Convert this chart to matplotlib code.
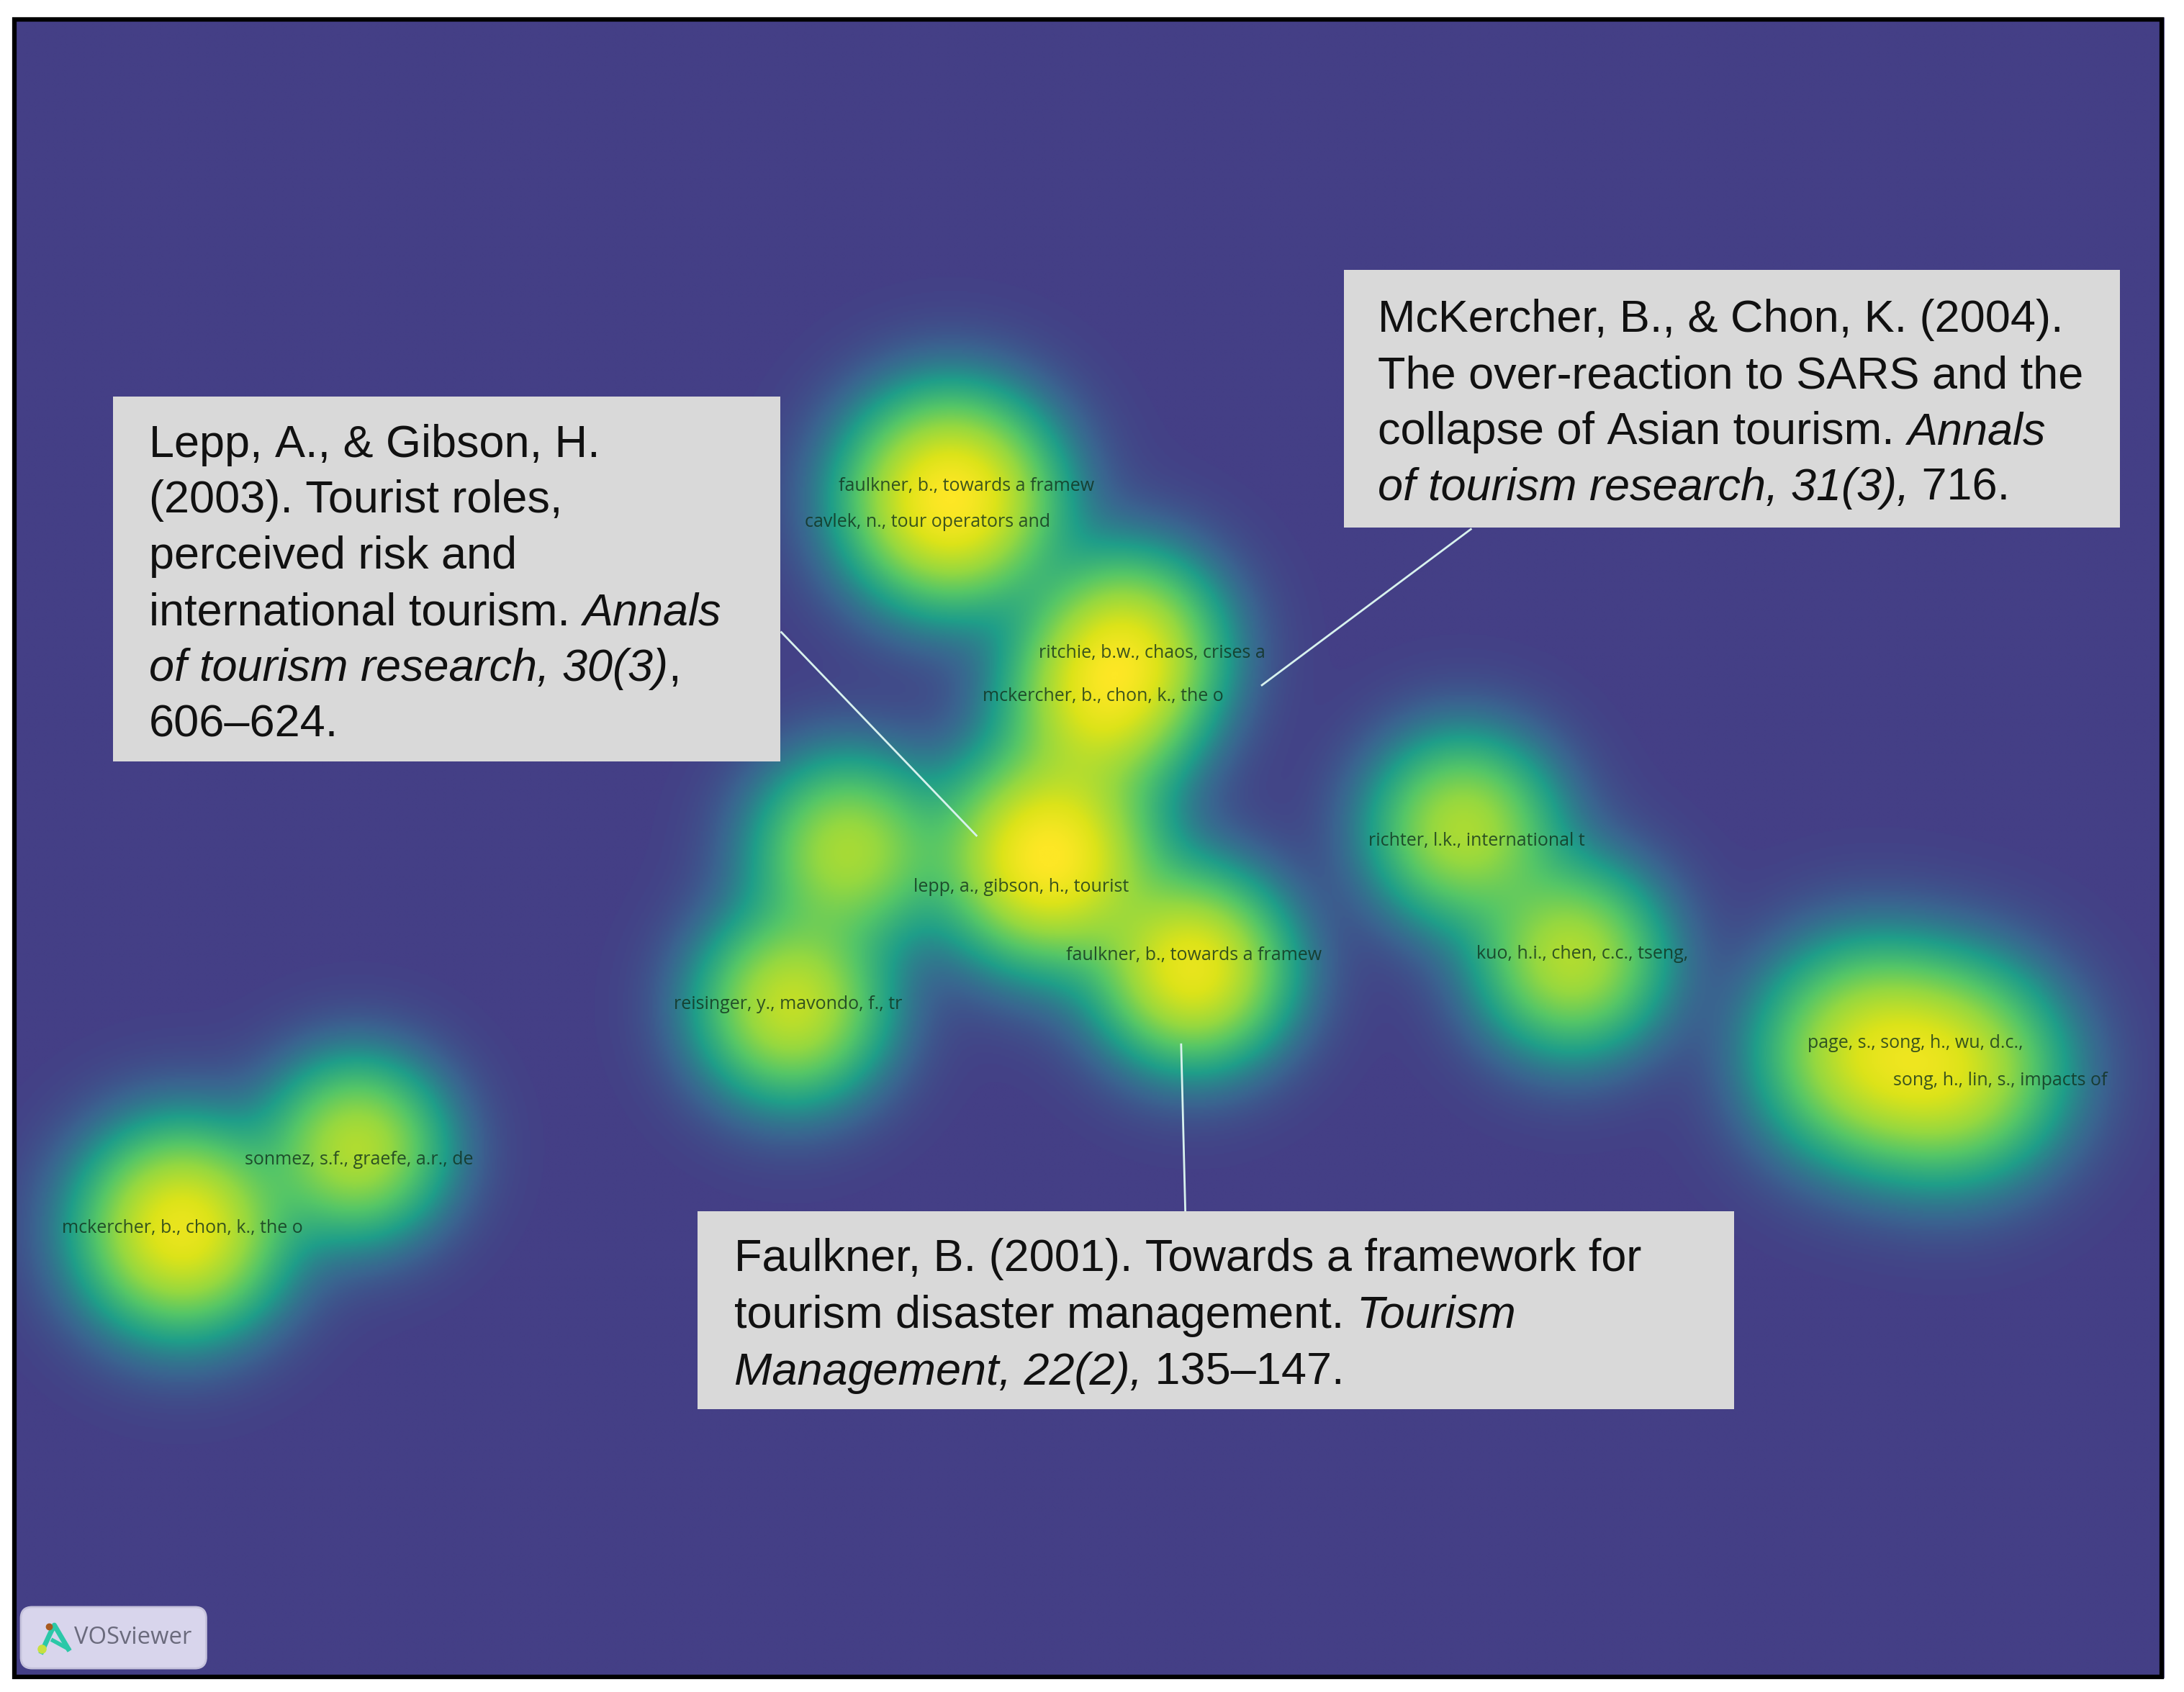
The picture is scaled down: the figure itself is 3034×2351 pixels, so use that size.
import matplotlib
matplotlib.use('Agg')
import matplotlib.pyplot as plt
import numpy as np
from matplotlib.colors import LinearSegmentedColormap
from matplotlib.patches import FancyBboxPatch, Rectangle

# density nodes, in picture coordinates of the 1568x1215 view
node_x = [682, 810, 790, 752, 856, 608, 568, 1050, 1128, 1338, 1405, 256, 130]
node_y = [358, 462, 505, 615, 695, 610, 722, 595, 688, 755, 768, 824, 882]
node_w = [1.0, 0.66, 0.66, 1.0, 0.86, 0.6, 0.7, 0.62, 0.64, 0.66, 0.66, 0.64, 0.88]
node_s = [48, 44, 44, 48, 44, 44, 44, 44, 44, 50, 50, 42, 47]

label_text = ["faulkner, b., towards a framew", "cavlek, n., tour operators and",
              "ritchie, b.w., chaos, crises a", "mckercher, b., chon, k., the o",
              "lepp, a., gibson, h., tourist", "faulkner, b., towards a framew",
              "reisinger, y., mavondo, f., tr", "richter, l.k., international t",
              "kuo, h.i., chen, c.c., tseng,", "page, s., song, h., wu, d.c.,",
              "song, h., lin, s., impacts of", "sonmez, s.f., graefe, a.r., de",
              "mckercher, b., chon, k., the o"]
label_x = [694, 666, 827, 792, 733, 857, 566, 1060, 1136, 1375, 1436, 258, 131]
label_y = [349, 375, 469, 500, 637, 686, 721, 604, 685, 749, 776, 833, 882]

lepp_lines = [[("Lepp, A., & Gibson, H.", "normal")],
              [("(2003). Tourist roles,", "normal")],
              [("perceived risk and", "normal")],
              [("international tourism. ", "normal"), ("Annals", "italic")],
              [("of tourism research, 30(3)", "italic"), (",", "normal")],
              [("606\u2013624.", "normal")]]
mck_lines = [[("McKercher, B., & Chon, K. (2004).", "normal")],
             [("The over-reaction to SARS and the", "normal")],
             [("collapse of Asian tourism. ", "normal"), ("Annals", "italic")],
             [("of tourism research, 31(3),", "italic"), (" 716.", "normal")]]
faulk_lines = [[("Faulkner, B. (2001). Towards a framework for", "normal")],
               [("tourism disaster management. ", "normal"), ("Tourism", "italic")],
               [("Management, 22(2),", "italic"), (" 135\u2013147.", "normal")]]

W, H = 1568, 1215
BG = '#443F86'
cmap = LinearSegmentedColormap.from_list('vos', [(0, BG), (0.07, '#3A6490'), (0.2, '#1F9E89'),
                                                 (0.38, '#55C667'), (0.55, '#95D840'),
                                                 (0.8, '#DCE319'), (1, '#FDE725')])

fig = plt.figure(figsize=(30.34, 23.51), dpi=100, facecolor='white')
ax = fig.add_axes([0, 0, 1, 1])
ax.set_xlim(0, W)
ax.set_ylim(H, 0)
ax.axis('off')

# heat map: gaussians combined with a p-norm so overlaps do not blow out
P = 1.25
xx, yy = np.meshgrid(np.arange(0, W, 1.0), np.arange(0, H, 1.0))
dens = np.zeros_like(xx)
for x, y, w, s in zip(node_x, node_y, node_w, node_s):
    dens += (w * np.exp(-((xx - x) ** 2 + (yy - y) ** 2) / (2 * s ** 2))) ** P
dens = dens ** (1 / P)
ax.imshow(np.clip(dens, 0, 1), cmap=cmap, vmin=0, vmax=1, extent=(0, W, H, 0),
          aspect='auto', interpolation='bilinear', zorder=1)

# black frame and white margin
ax.add_patch(Rectangle((0, 0), W, 12, color='white', zorder=2))
ax.add_patch(Rectangle((0, 1205), W, 10, color='white', zorder=2))
ax.add_patch(Rectangle((0, 0), 9, H, color='white', zorder=2))
ax.add_patch(Rectangle((1554, 0), 14, H, color='white', zorder=2))
ax.add_patch(Rectangle((10.1, 14.2), 1542, 1189.7, fill=False, ec='black', lw=4.5, zorder=3))

for t, x, y in zip(label_text, label_x, label_y):
    ax.text(x, y, t, family='Open Sans', fontsize=18, color='#10301c', alpha=0.8,
            ha='center', va='center', zorder=4)

# leader lines
line_color = '#d8f2ee'
ax.plot([561, 701], [454, 600], color=line_color, lw=2, zorder=4)
ax.plot([1056, 906], [380, 492], color=line_color, lw=2, zorder=4)
ax.plot([848, 851], [750, 870], color=line_color, lw=2, zorder=4)


def text_box(x0, y0, x1, y1, lines, tx, ty, step):
    ax.add_patch(Rectangle((x0, y0), x1 - x0, y1 - y0, fc='#D9D9D9', ec='none', zorder=5))
    renderer = fig.canvas.get_renderer()
    for i, line in enumerate(lines):
        px = tx
        for s, style in line:
            t = ax.text(px, ty + i * step, s, family='Liberation Sans', style=style,
                        fontsize=45.4, color='#111111', ha='left', va='baseline', zorder=6)
            # trailing spaces are not counted in the extent, measure with a stand-in
            t.set_text(s.replace(' ', '\u00a0'))
            bb = t.get_window_extent(renderer)
            px += bb.width * W / fig.bbox.width


text_box(81, 285, 560, 547, lepp_lines, 107, 328, 40.2)
text_box(965, 194, 1522, 379, mck_lines, 989, 238.5, 40.2)
text_box(501, 870, 1245, 1012, faulk_lines, 527, 912.5, 40.8)

# VOSviewer badge
ax.add_patch(FancyBboxPatch((15, 1154), 133, 44, boxstyle='round,pad=0,rounding_size=8',
                            fc='#D8D5EC', ec='#C6C3DC', lw=2, zorder=5))
ax.text(53, 1176, 'VOSviewer', family='Open Sans', fontsize=23.6, color='#6A6A7C',
        ha='left', va='center', zorder=6)
ax.plot([30, 36, 39, 49], [1186, 1173, 1167, 1184], color='#2BC8A8', lw=5, zorder=6)
ax.plot([38, 49], [1178, 1184], color='#2BC8A8', lw=4, zorder=6)
ax.plot([30], [1184], 'o', color='#C8E040', ms=8, zorder=7)
ax.plot([35], [1168], 'o', color='#A85A20', ms=6, zorder=7)

fig.savefig('out.png', dpi=100)
